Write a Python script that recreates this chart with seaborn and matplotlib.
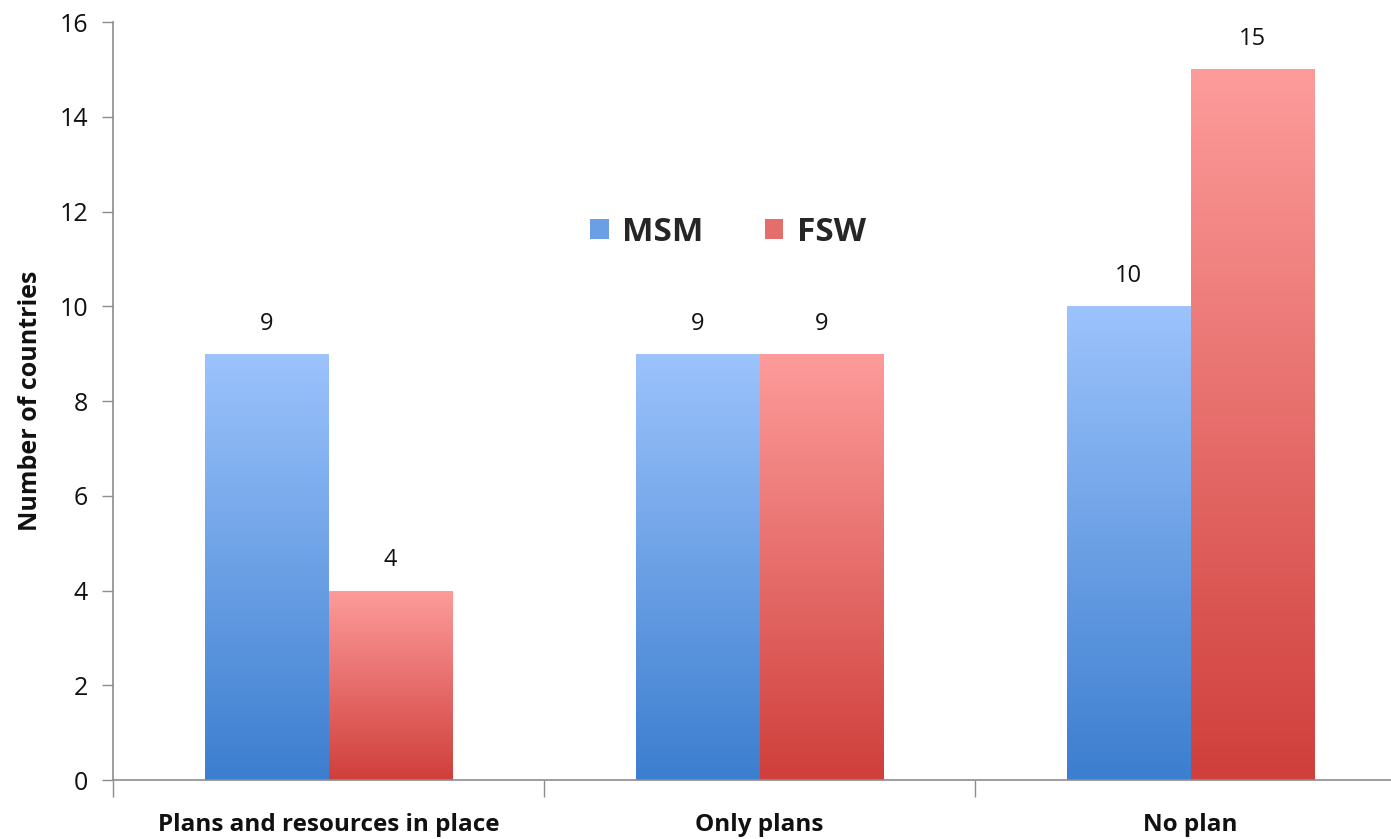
import numpy as np
import pandas as pd
import matplotlib
matplotlib.use("Agg")
import matplotlib.pyplot as plt
from matplotlib.colors import LinearSegmentedColormap
from matplotlib.patches import Patch
import seaborn as sns

# data
categories = ["Plans and resources in place", "Only plans", "No plan"]
groups = ["MSM", "FSW"]
msm_counts = [9, 9, 10]
fsw_counts = [4, 9, 15]

df = pd.DataFrame({
    "category": categories * 2,
    "group": ["MSM"] * 3 + ["FSW"] * 3,
    "count": msm_counts + fsw_counts,
})

# gradient colours (top light -> bottom dark)
grad = {
    "MSM": ("#9cc3fc", "#3c7ecf"),
    "FSW": ("#fd9c9b", "#cf3f3b"),
}

sns.set_style("white")
plt.rcParams["font.family"] = ["Open Sans", "DejaVu Sans"]

fig = plt.figure(figsize=(13.91, 8.39), dpi=100)
ax = fig.add_axes([113 / 1391, 1 - 780 / 839, (1406 - 113) / 1391, (780 - 22) / 839])

sns.barplot(data=df, x="category", y="count", hue="group", order=categories,
            hue_order=groups, width=0.572, gap=0, palette=["#5a90dc", "#e06461"],
            ax=ax, legend=False, saturation=1)

# replace flat fill with vertical gradient per bar
for cont, g in zip(ax.containers, groups):
    cmap = LinearSegmentedColormap.from_list(g, [grad[g][1], grad[g][0]])
    for bar, val in zip(cont, df[df.group == g]["count"]):
        x0, y0 = bar.get_x(), bar.get_y()
        w, h = bar.get_width(), bar.get_height()
        bar.set_facecolor("none")
        bar.set_edgecolor("none")
        img = ax.imshow(np.linspace(0, 1, 256).reshape(-1, 1), cmap=cmap,
                        extent=[x0, x0 + w, y0, y0 + h], origin="lower",
                        aspect="auto", zorder=2)
        img.set_clip_path(bar)
        ax.text(x0 + w / 2, y0 + h + 0.38, f"{val:g}", ha="center", va="bottom",
                fontsize=17, color="#111111")

ax.set_xlim(-0.5, 2.5)
ax.set_ylim(0, 16)
ax.set_yticks(range(0, 17, 2))
ax.tick_params(axis="y", labelsize=18, length=8, width=1, color="#8c8c8c", pad=10, left=True,
               labelcolor="#111111")
ax.set_xticks(range(3))
ax.set_xticklabels(categories, fontsize=17.5, fontweight="bold", color="#111111")
ax.tick_params(axis="x", length=0, pad=24)
ax.set_xticks([-0.5, 0.5, 1.5], minor=True)
ax.tick_params(axis="x", which="minor", length=12, width=1, color="#8c8c8c", bottom=True)

ax.set_xlabel("")
ax.set_ylabel("Number of countries", fontsize=18, fontweight="bold", color="#111111", labelpad=12)

for s in ["top", "right"]:
    ax.spines[s].set_visible(False)
for s in ["left", "bottom"]:
    ax.spines[s].set_color("#8c8c8c")
    ax.spines[s].set_linewidth(1.2)

handles = [Patch(facecolor="#6a9fe6", edgecolor="none"),
           Patch(facecolor="#e46e6b", edgecolor="none")]
ax.legend(handles, groups, loc="center", bbox_to_anchor=((728 - 113) / 1293, 1 - (232 - 22) / 758),
          ncol=2, frameon=False, handlelength=0.55, handleheight=0.55,
          handletextpad=0.4, columnspacing=1.85,
          prop={"size": 24, "weight": "bold"})

fig.savefig("out.png", dpi=100)
